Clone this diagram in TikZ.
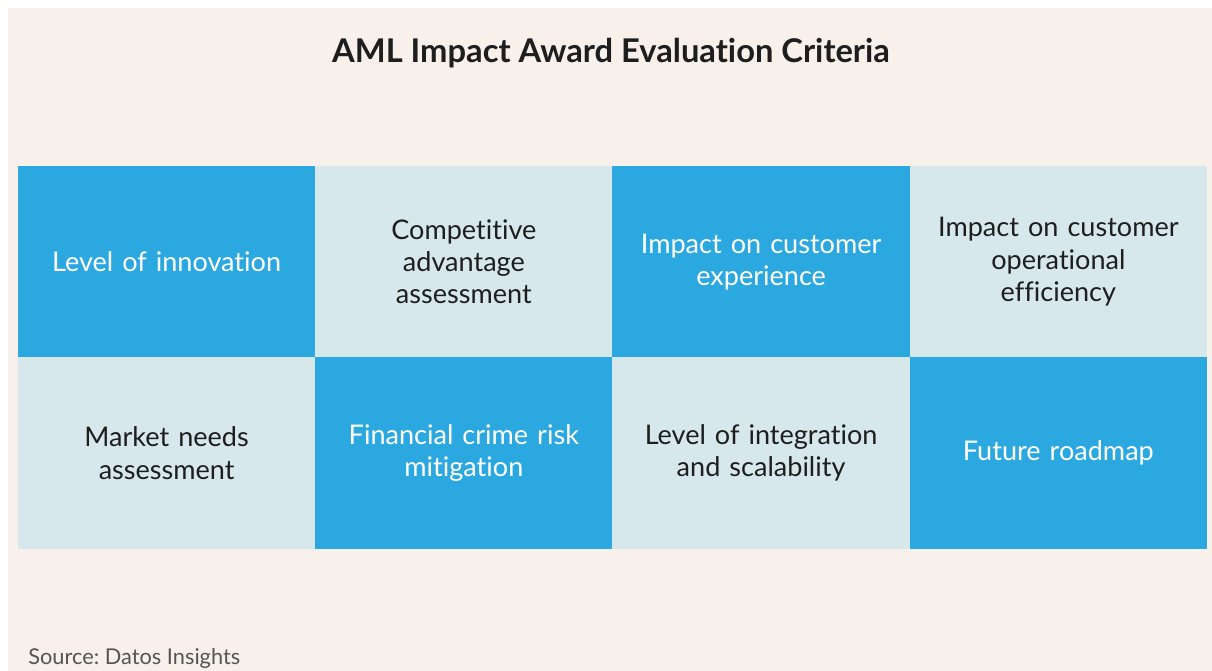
\documentclass[tikz,border=0pt]{standalone}
\usepackage{fontspec}
\setmainfont[Ligatures=NoCommon]{Lato}
\usepackage{xcolor}
\usetikzlibrary{positioning}
\frenchspacing

\definecolor{paper}{HTML}{F8F0EA}
\definecolor{cellblue}{HTML}{2CA8E0}
\definecolor{cellpale}{HTML}{D7E8EC}
\definecolor{inkdark}{HTML}{1E1E1E}
\definecolor{inkgrey}{HTML}{555555}

\begin{document}
\begin{tikzpicture}[
    x=0.02cm, y=-0.02cm,
    node distance=0pt and 0pt,
    cell/.style={minimum width=5.946cm, minimum height=3.83cm, inner sep=0pt,
                 outer sep=0pt, align=center, text width=5.6cm,
                 font=\fontsize{15.4}{18.3}\selectfont},
    darkcell/.style={cell, fill=cellblue, text=white},
    lightcell/.style={cell, fill=cellpale, text=inkdark},
]
\useasboundingbox (0,0) rectangle (1212,671);
\fill[paper] (8,8) rectangle (1212,671);

% Title
\node[font=\fontsize{18.6}{22}\bfseries\selectfont, text=inkdark] (title) at (611,53)
    {AML Impact Award Evaluation Criteria};

% Top row
\node[darkcell, anchor=north west] (innovation) at (18,166) {Level of innovation};
\node[lightcell, right=of innovation] (advantage) {Competitive\\advantage\\assessment};
\node[darkcell, right=of advantage] (experience) {Impact on customer\\experience};
\node[lightcell, right=of experience] (efficiency) {Impact on customer\\operational\\efficiency};

% Bottom row
\node[lightcell, below=of innovation] (market) {Market needs\\assessment};
\node[darkcell, right=of market] (crime) {Financial crime risk\\mitigation};
\node[lightcell, right=of crime] (integration) {Level of integration\\and scalability};
\node[darkcell, right=of integration] (roadmap) {Future roadmap};

% Source line
\node[anchor=base west, font=\fontsize{12.4}{15}\selectfont, text=inkgrey, inner sep=0pt]
    (source) at (28,664) {Source: Datos Insights};

\end{tikzpicture}
\end{document}
